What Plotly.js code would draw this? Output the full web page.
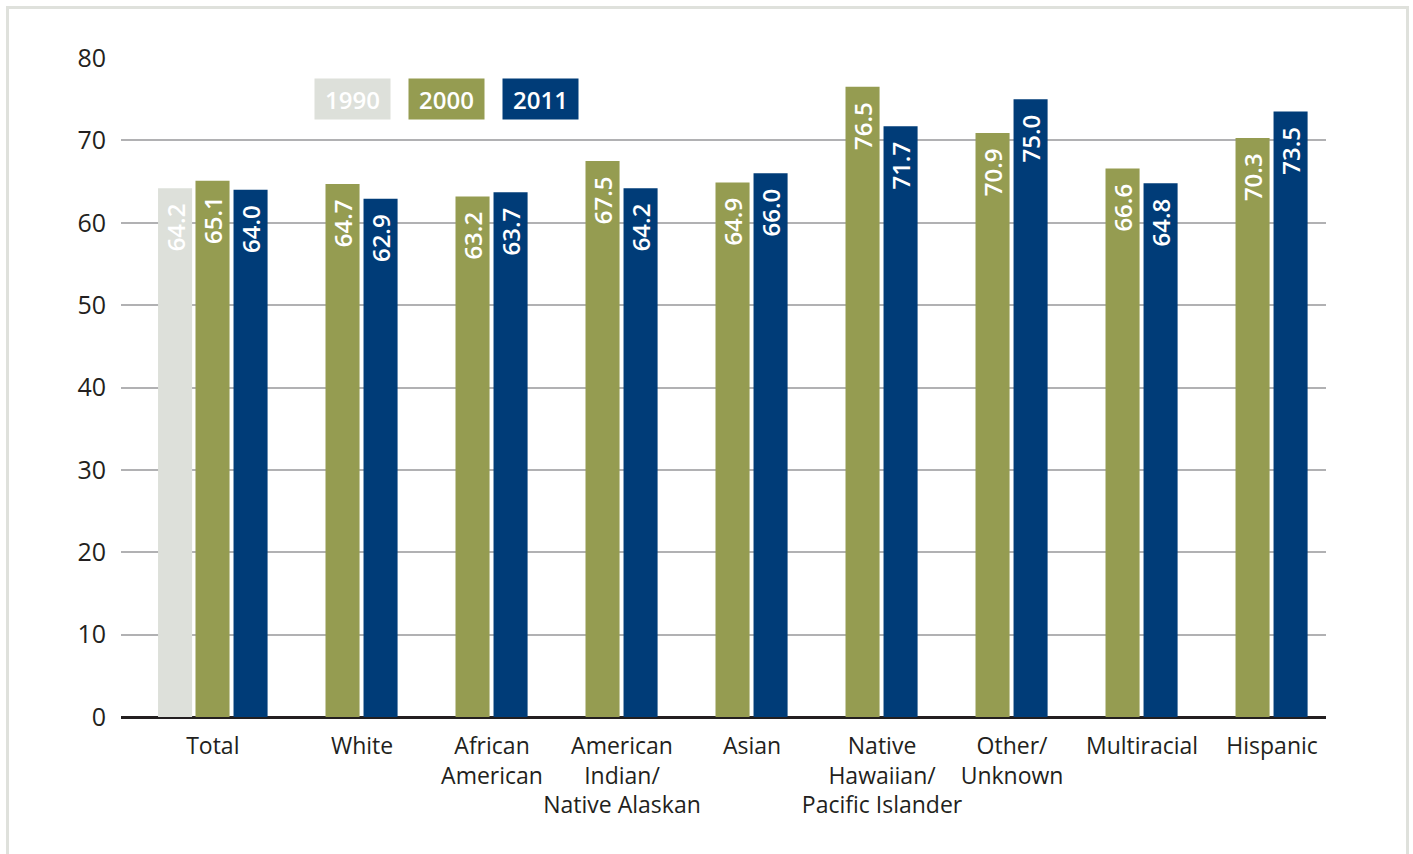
<!DOCTYPE html>
<html>
<head>
<meta charset="utf-8">
<script src="https://cdn.plot.ly/plotly-3.0.1.min.js"></script>
<style>
  html, body { margin: 0; padding: 0; background: #fff; }
  #wrap { position: relative; width: 1413px; height: 854px; overflow: hidden; }
  #frame { position: absolute; left: 6px; top: 6px; width: 1403px; height: 900px;
           border: 3px solid #dfe1dc; box-sizing: border-box; pointer-events: none; }
  #chart { position: absolute; left: 0; top: 0; width: 1413px; height: 854px; }
</style>
</head>
<body>
<div id="wrap">
  <div id="chart"></div>
  <div id="frame"></div>
</div>
<script>
const categories = ["Total", "White", "African<br>American", "American<br>Indian/<br>Native Alaskan",
  "Asian", "Native<br>Hawaiian/<br>Pacific Islander", "Other/<br>Unknown", "Multiracial", "Hispanic"];
const years = ["1990", "2000", "2011"];
const values1990 = [64.2];            // only the Total group has a 1990 value
const values2000 = [65.1, 64.7, 63.2, 67.5, 64.9, 76.5, 70.9, 66.6, 70.3];
const values2011 = [64.0, 62.9, 63.7, 64.2, 66.0, 71.7, 75.0, 64.8, 73.5];
const yTicks = [0, 10, 20, 30, 40, 50, 60, 70, 80];

const colors = { "1990": "#dde0da", "2000": "#959c51", "2011": "#003c78" };
const font = "'Open Sans', 'Noto Sans', sans-serif";

const barW = 0.262;
const off2000 = -0.281, off2011 = 0.0115, off1990 = -0.569;
const idx = categories.map((c, i) => i);

function barTrace(name, vals, off) {
  return {
    type: "bar", name: name,
    x: vals.map((v, i) => idx[i]), y: vals,
    width: barW, offset: off,
    marker: { color: colors[name], line: { width: 0 } },
    // trailing no-break spaces keep the label a little below the bar top
    text: vals.map(v => v.toFixed(1) + "\u00a0\u00a0"),
    textposition: "inside", insidetextanchor: "end", textangle: -90,
    constraintext: "none",
    textfont: { family: font, size: 24, color: "#ffffff", weight: 600 },
    hoverinfo: "skip", showlegend: false
  };
}

const traces = [
  barTrace("1990", values1990, off1990),
  barTrace("2000", values2000, off2000),
  barTrace("2011", values2011, off2011)
];

// tick positions: Total label is centred under its three bars
const tickvals = idx.map(i => i === 0 ? (off1990 + off2011 + barW) / 2 : i);

const legendX = [0.1925, 0.2705, 0.3485];
const annotations = years.map((yr, i) => ({
  xref: "paper", yref: "paper", x: legendX[i], y: 0.9378,
  xanchor: "center", yanchor: "middle", showarrow: false,
  text: yr, bgcolor: colors[yr], width: 75, height: 40, borderpad: 0,
  font: { family: font, size: 24, color: "#ffffff", weight: 600 }
}));

const layout = {
  width: 1413, height: 854,
  margin: { l: 121, r: 87, t: 58, b: 137, pad: 0 },
  paper_bgcolor: "#ffffff", plot_bgcolor: "#ffffff",
  barmode: "overlay",
  showlegend: false,
  xaxis: {
    type: "linear", range: [-0.854, 8.415],
    tickmode: "array", tickvals: tickvals, ticktext: categories,
    tickangle: 0, automargin: false,
    showgrid: false, zeroline: false, showline: false,
    ticks: "outside", ticklen: 8, tickcolor: "rgba(0,0,0,0)",
    tickfont: { family: font, size: 23, color: "#231f20" },
    fixedrange: true
  },
  yaxis: {
    range: [0, 80], tickmode: "array", tickvals: yTicks,
    showgrid: true, gridcolor: "#b1b1b3", gridwidth: 2,
    zeroline: true, zerolinecolor: "#231f20", zerolinewidth: 3,
    showline: false, automargin: false,
    ticks: "outside", ticklen: 9, tickcolor: "rgba(0,0,0,0)",
    tickfont: { family: font, size: 25, color: "#231f20" },
    fixedrange: true
  },
  annotations: annotations
};

Plotly.newPlot("chart", traces, layout, { displayModeBar: false, staticPlot: true });
</script>
</body>
</html>
